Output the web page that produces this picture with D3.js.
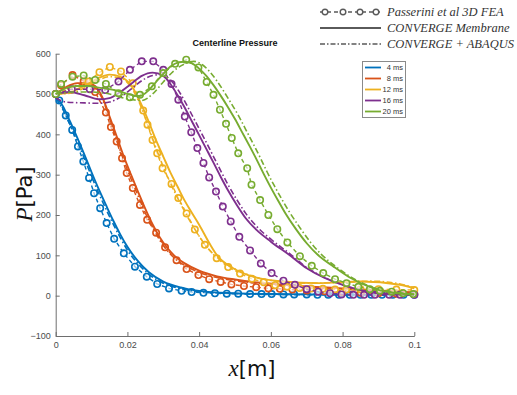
<!DOCTYPE html>
<html>
<head>
<meta charset="utf-8">
<script src="https://cdn.jsdelivr.net/npm/d3@7"></script>
<style>
  body { margin: 0; background: #fff; }
  svg { display: block; font-family: "Liberation Sans", Arial, sans-serif; }
</style>
</head>
<body>
<svg id="chart" width="517" height="395"></svg>
<script>
// time steps and their colours (MATLAB default order)
var times = ["4 ms", "8 ms", "12 ms", "16 ms", "20 ms"];
var colors = ["#0072BD", "#D95319", "#EDB120", "#7E2F8E", "#77AC30"];

var xTicks = [0, 0.02, 0.04, 0.06, 0.08, 0.1];
var yTicks = [-100, 0, 100, 200, 300, 400, 500, 600];

// Passerini et al 3D FEA  [x (m), P (Pa)]
var fea4 = [[0.001,484],[0.0028,447],[0.0046,411],[0.0062,370],[0.0077,333],[0.0093,292],[0.0107,254],[0.0124,217],[0.0142,180],[0.0163,141],[0.019,105],[0.0221,72],[0.0254,47],[0.0283,29],[0.0316,18],[0.0351,12],[0.0379,9],[0.0412,7],[0.0444,6],[0.0477,5],[0.0509,5],[0.0542,4],[0.0574,4],[0.0602,4],[0.0635,3],[0.0665,3],[0.07,3],[0.073,2],[0.076,2],[0.079,2],[0.082,2],[0.085,2],[0.088,2],[0.091,2],[0.094,2],[0.097,2],[0.1,2]];
var fea8 = [[0,500],[0.0015,522],[0.0047,547],[0.0078,532],[0.011,505],[0.014,454],[0.0154,418],[0.017,382],[0.0185,341],[0.0198,304],[0.0215,267],[0.0235,225],[0.0255,188],[0.028,156],[0.0305,120],[0.0337,88],[0.0365,66],[0.0398,51],[0.0428,41],[0.046,34],[0.049,28],[0.0525,24],[0.0559,21],[0.0593,18],[0.0625,17],[0.066,15],[0.07,13],[0.075,11],[0.08,9],[0.085,7],[0.09,6],[0.095,5],[0.1,4]];
var fea12 = [[0,500],[0.0091,531],[0.0122,554],[0.0151,567],[0.0182,556],[0.0215,527],[0.0244,459],[0.0256,424],[0.027,386],[0.0283,353],[0.0298,316],[0.0323,277],[0.0342,242],[0.0365,204],[0.0388,164],[0.0416,126],[0.0449,93],[0.0481,71],[0.0514,55],[0.0547,42],[0.058,33],[0.0612,26],[0.0645,22],[0.068,19],[0.0712,18],[0.0745,17],[0.0779,15],[0.081,15],[0.085,16],[0.09,16],[0.095,15],[0.1,14]];
var fea16 = [[0,500],[0.0045,512],[0.0095,512],[0.0138,510],[0.0175,531],[0.0207,560],[0.024,581],[0.0272,581],[0.03,560],[0.0323,525],[0.0342,486],[0.036,444],[0.0378,405],[0.0395,366],[0.0412,329],[0.0428,293],[0.0447,258],[0.0466,221],[0.0488,184],[0.0512,146],[0.0542,112],[0.0572,80],[0.0602,56],[0.0635,37],[0.0667,27],[0.07,16],[0.0732,10],[0.0765,6],[0.0797,3],[0.083,2],[0.086,2],[0.089,2],[0.093,2],[0.096,2],[0.1,2]];
var fea20 = [[0,500],[0.0015,525],[0.0047,543],[0.0078,546],[0.011,535],[0.014,525],[0.0175,502],[0.0207,492],[0.0235,498],[0.0268,519],[0.03,552],[0.0333,575],[0.0364,585],[0.0398,566],[0.0421,530],[0.044,498],[0.0458,461],[0.0475,426],[0.0491,391],[0.0509,353],[0.0534,316],[0.0546,275],[0.057,237],[0.0593,200],[0.0618,165],[0.0646,132],[0.0681,98],[0.0714,74],[0.0746,56],[0.0779,41],[0.0811,31],[0.0844,22],[0.0876,16],[0.0904,12],[0.0937,10],[0.0969,6],[0.0997,4]];

// CONVERGE Membrane (solid)
var mem4 = [[0,495],[0.002,470],[0.004,432],[0.006,392],[0.008,350],[0.01,306],[0.012,264],[0.014,225],[0.016,187],[0.018,152],[0.02,121],[0.023,85],[0.026,58],[0.03,35],[0.035,20],[0.04,12],[0.05,6],[0.06,4],[0.08,3],[0.1,2]];
var mem8 = [[0,500],[0.003,518],[0.006,527],[0.009,527],[0.011,520],[0.013,492],[0.015,445],[0.017,395],[0.019,345],[0.021,300],[0.023,257],[0.025,215],[0.027,177],[0.029,145],[0.031,120],[0.033,100],[0.036,80],[0.04,62],[0.045,48],[0.05,40],[0.057,32],[0.0635,27],[0.07,23],[0.08,18],[0.09,13],[0.1,8]];
var mem12 = [[0,500],[0.004,505],[0.008,520],[0.012,540],[0.015,548],[0.018,543],[0.021,522],[0.024,472],[0.026,430],[0.028,385],[0.03,345],[0.032,305],[0.034,270],[0.036,235],[0.038,205],[0.04,176],[0.043,128],[0.045,100],[0.0495,68],[0.055,47],[0.0635,35],[0.073,31],[0.085,35],[0.096,27],[0.1,18]];
var mem16 = [[0,500],[0.004,505],[0.008,497],[0.012,487],[0.015,490],[0.018,505],[0.021,525],[0.024,545],[0.027,553],[0.03,545],[0.032,525],[0.034,497],[0.036,466],[0.038,432],[0.04,398],[0.042,364],[0.044,330],[0.046,295],[0.048,262],[0.0505,225],[0.053,192],[0.056,163],[0.06,134],[0.065,102],[0.07,68],[0.075,44],[0.08,27],[0.085,14],[0.09,6],[0.1,2]];
var mem20 = [[0,500],[0.003,515],[0.006,520],[0.009,520],[0.012,516],[0.015,512],[0.018,506],[0.021,498],[0.0235,495],[0.026,510],[0.028,530],[0.03,550],[0.032,568],[0.034,578],[0.036,580],[0.038,576],[0.04,563],[0.042,545],[0.044,522],[0.046,496],[0.048,468],[0.05,438],[0.052,405],[0.054,372],[0.056,338],[0.058,302],[0.06,268],[0.062,236],[0.064,205],[0.067,165],[0.07,130],[0.073,102],[0.0775,72],[0.082,45],[0.0886,18],[0.095,6],[0.1,3]];

// CONVERGE + ABAQUS (dash-dot)
var aba4 = [[0,490],[0.002,462],[0.004,424],[0.006,383],[0.008,340],[0.01,296],[0.012,254],[0.014,215],[0.016,178],[0.018,144],[0.02,113],[0.023,79],[0.026,53],[0.03,31],[0.035,17],[0.04,10],[0.05,5],[0.06,3],[0.08,2],[0.1,1]];
var aba8 = [[0,500],[0.003,512],[0.006,522],[0.009,524],[0.011,515],[0.013,488],[0.015,440],[0.017,385],[0.019,335],[0.021,290],[0.023,247],[0.025,205],[0.027,170],[0.029,138],[0.031,113],[0.033,94],[0.036,75],[0.04,58],[0.045,45],[0.05,37],[0.057,30],[0.0635,25],[0.07,21],[0.08,16],[0.09,12],[0.1,7]];
var aba12 = [[0,500],[0.004,502],[0.008,515],[0.012,535],[0.015,543],[0.018,540],[0.021,517],[0.023,485],[0.025,440],[0.027,390],[0.029,342],[0.031,298],[0.033,260],[0.035,225],[0.037,192],[0.039,162],[0.042,122],[0.045,95],[0.05,66],[0.055,48],[0.06,38],[0.07,31],[0.08,33],[0.088,36],[0.096,29],[0.1,20]];
var aba16 = [[0,490],[0.003,480],[0.008,478],[0.012,477],[0.015,480],[0.018,492],[0.021,512],[0.024,533],[0.027,546],[0.0295,548],[0.032,535],[0.034,512],[0.036,482],[0.038,448],[0.04,414],[0.042,380],[0.044,345],[0.046,310],[0.048,276],[0.0505,238],[0.053,204],[0.056,172],[0.06,140],[0.065,106],[0.07,70],[0.075,45],[0.08,27],[0.085,14],[0.09,6],[0.1,2]];
var aba20 = [[0,500],[0.005,505],[0.01,505],[0.015,500],[0.02,488],[0.024,484],[0.027,500],[0.03,530],[0.033,558],[0.036,575],[0.0385,581],[0.041,572],[0.043,555],[0.045,532],[0.047,505],[0.049,476],[0.051,446],[0.053,412],[0.055,378],[0.057,343],[0.059,306],[0.061,272],[0.063,240],[0.065,210],[0.068,170],[0.071,133],[0.074,103],[0.078,73],[0.082,48],[0.088,22],[0.095,8],[0.1,4]];

var feaSets = [fea4, fea8, fea12, fea16, fea20];
var memSets = [mem4, mem8, mem12, mem16, mem20];
var abaSets = [aba4, aba8, aba12, aba16, aba20];

var svg = d3.select("#chart");

var x = d3.scaleLinear().domain([0, 0.1]).range([55.7, 414.3]);
var y = d3.scaleLinear().domain([-100, 600]).range([336, 53.7]);

var axisColor = "#6e6e6e";
var textColor = "#4a4a4a";

// axes (box off, ticks pointing in)
var gx = svg.append("g")
  .attr("transform", "translate(0," + y(-100) + ")")
  .call(d3.axisBottom(x).tickValues(xTicks).tickSizeInner(-4).tickSizeOuter(0).tickPadding(6)
    .tickFormat(function(d) { return d === 0 ? "0" : String(+d.toFixed(2)); }));
var gy = svg.append("g")
  .attr("transform", "translate(" + x(0) + ",0)")
  .call(d3.axisLeft(y).tickValues(yTicks).tickSizeInner(-4).tickSizeOuter(0).tickPadding(5));

[gx, gy].forEach(function(g) {
  g.select(".domain").attr("stroke", axisColor);
  g.selectAll(".tick line").attr("stroke", axisColor);
  g.selectAll(".tick text").attr("fill", textColor).attr("font-size", 9)
    .attr("font-family", "'Liberation Sans', Arial, sans-serif");
});

var smooth = d3.line()
  .x(function(d) { return x(d[0]); })
  .y(function(d) { return y(d[1]); })
  .curve(d3.curveMonotoneX);
var straight = d3.line()
  .x(function(d) { return x(d[0]); })
  .y(function(d) { return y(d[1]); });

var plot = svg.append("g");

for (var i = 0; i < times.length; i++) {
  var c = colors[i];

  plot.append("path")
    .attr("d", straight(feaSets[i]))
    .attr("fill", "none")
    .attr("stroke", c)
    .attr("stroke-width", 1.4)
    .attr("stroke-dasharray", "4,3");

  plot.selectAll(".m" + i)
    .data(feaSets[i])
    .enter().append("circle")
    .attr("class", "m" + i)
    .attr("cx", function(d) { return x(d[0]); })
    .attr("cy", function(d) { return y(d[1]); })
    .attr("r", 3.2)
    .attr("fill", "#fff")
    .attr("fill-opacity", 0.6)
    .attr("stroke", c)
    .attr("stroke-width", 1.6);

  plot.append("path")
    .attr("d", smooth(memSets[i]))
    .attr("fill", "none")
    .attr("stroke", c)
    .attr("stroke-width", 1.9);

  plot.append("path")
    .attr("d", smooth(abaSets[i]))
    .attr("fill", "none")
    .attr("stroke", c)
    .attr("stroke-width", 1.6)
    .attr("stroke-dasharray", "6,2.5,1.5,2.5");
}

// title
svg.append("text")
  .attr("x", 235).attr("y", 46)
  .attr("text-anchor", "middle")
  .attr("font-size", 9).attr("font-weight", "bold")
  .attr("fill", "#111")
  .text("Centerline Pressure");

// axis labels
var xl = svg.append("text")
  .attr("x", 252).attr("y", 376)
  .attr("text-anchor", "middle")
  .attr("font-size", 23).attr("fill", "#111");
xl.append("tspan").attr("font-family", "'Liberation Serif', serif").attr("font-style", "italic").text("x");
xl.append("tspan").attr("font-family", "'DejaVu Sans', sans-serif").attr("font-size", 21).text("[m]");

var yl = svg.append("text")
  .attr("transform", "translate(32,194) rotate(-90)")
  .attr("text-anchor", "middle")
  .attr("font-size", 23).attr("fill", "#111");
yl.append("tspan").attr("font-family", "'Liberation Serif', serif").attr("font-style", "italic").text("P");
yl.append("tspan").attr("font-family", "'DejaVu Sans', sans-serif").attr("font-size", 21).text("[Pa]");

// colour legend
var lg = svg.append("g");
lg.append("rect")
  .attr("x", 362.5).attr("y", 61.5).attr("width", 43).attr("height", 56)
  .attr("fill", "#fff").attr("stroke", "#8a8a8a").attr("stroke-width", 1);
times.forEach(function(t, k) {
  var ry = 67.5 + k * 11;
  lg.append("line")
    .attr("x1", 365).attr("x2", 381).attr("y1", ry).attr("y2", ry)
    .attr("stroke", colors[k]).attr("stroke-width", 1.8);
  lg.append("text")
    .attr("x", 403).attr("y", ry + 2.7)
    .attr("text-anchor", "end")
    .attr("font-size", 7.5).attr("fill", "#333")
    .text(t);
});

// style legend (top right)
var sg = svg.append("g").attr("stroke", "#5a5a5a").attr("fill", "none");
var styleRows = [12, 28, 44];
sg.append("line").attr("x1", 320).attr("x2", 381).attr("y1", styleRows[0]).attr("y2", styleRows[0])
  .attr("stroke-width", 1.3).attr("stroke-dasharray", "4,3");
[325, 343, 360, 376].forEach(function(cx) {
  sg.append("circle").attr("cx", cx).attr("cy", styleRows[0]).attr("r", 2.8)
    .attr("fill", "#fff").attr("stroke-width", 1.4);
});
sg.append("line").attr("x1", 320).attr("x2", 381).attr("y1", styleRows[1]).attr("y2", styleRows[1])
  .attr("stroke-width", 1.8);
sg.append("line").attr("x1", 320).attr("x2", 381).attr("y1", styleRows[2]).attr("y2", styleRows[2])
  .attr("stroke-width", 1.4).attr("stroke-dasharray", "5,2,1.5,2");

var styleNames = ["Passerini et al 3D FEA", "CONVERGE Membrane", "CONVERGE + ABAQUS"];
styleNames.forEach(function(s, k) {
  svg.append("text")
    .attr("x", 387).attr("y", styleRows[k] + 4)
    .attr("font-family", "'Liberation Serif', 'DejaVu Serif', serif")
    .attr("font-style", "italic")
    .attr("font-size", 12.5)
    .attr("fill", "#333")
    .text(s);
});
</script>
</body>
</html>
